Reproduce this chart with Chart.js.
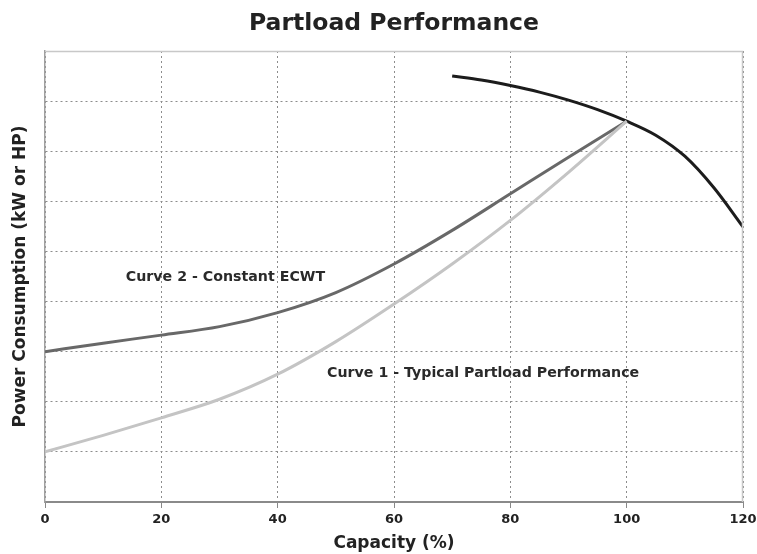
<!DOCTYPE html>
<html>
<head>
<meta charset="utf-8">
<script src="https://cdn.jsdelivr.net/npm/chart.js@4.4.0/dist/chart.umd.min.js"></script>
<style>
  html, body { margin: 0; padding: 0; background: #fff; }
  #wrap { width: 757px; height: 554px; }
</style>
</head>
<body>
<div id="wrap"><canvas id="c" width="757" height="554"></canvas></div>
<script>
// ---- Data ----
const xTicks = [0, 20, 40, 60, 80, 100, 120];

const curve1Capacity = [0, 10, 20, 30, 40, 50, 60, 70, 80, 90, 100];
const curve1Power    = [10, 13.3, 16.8, 20.5, 25.5, 32.0, 39.5, 47.5, 56.2, 65.8, 76.0];

const curve2Capacity = [0, 10, 20, 30, 40, 50, 60, 70, 80, 90, 100];
const curve2Power    = [30, 31.7, 33.3, 35.0, 37.8, 41.8, 47.5, 54.2, 61.5, 68.8, 76.0];

const curve3Capacity = [70, 75, 80, 85, 90, 95, 100, 105, 110, 115, 120];
const curve3Power    = [85.0, 84.2, 83.1, 81.8, 80.2, 78.3, 76.0, 73.2, 69.0, 62.7, 54.9];

const labelTexts = ["Curve 2 - Constant ECWT", "Curve 1 - Typical Partload Performance"];
const labelCapacity = [13.9, 48.5];
const labelPower = [44.9, 25.6];

function pts(xs, ys) { return xs.map((x, i) => ({ x: x, y: ys[i] })); }

const FONT = "'DejaVu Sans', Verdana, sans-serif";

const frame = {
  id: 'frame',
  afterDatasetsDraw(chart) {
    const { ctx, chartArea: a } = chart;
    ctx.save();
    ctx.strokeStyle = '#c8c8c8';
    ctx.lineWidth = 1.5;
    ctx.beginPath();
    ctx.moveTo(a.left, a.top + 0.5);
    ctx.lineTo(a.right - 0.5, a.top + 0.5);
    ctx.lineTo(a.right - 0.5, a.bottom);
    ctx.stroke();
    ctx.restore();
  }
};

const curveLabels = {
  id: 'curveLabels',
  afterDatasetsDraw(chart) {
    const { ctx, scales } = chart;
    ctx.save();
    ctx.font = "bold 14.2px " + FONT;
    ctx.fillStyle = '#2a2a2a';
    ctx.textBaseline = 'middle';
    ctx.textAlign = 'left';
    labelTexts.forEach((t, i) => {
      ctx.fillText(t, scales.x.getPixelForValue(labelCapacity[i]), scales.y.getPixelForValue(labelPower[i]));
    });
    ctx.restore();
  }
};

new Chart(document.getElementById('c'), {
  type: 'line',
  data: {
    datasets: [
      { label: 'Curve 1', data: pts(curve1Capacity, curve1Power), borderColor: '#c4c4c4', borderWidth: 3, pointRadius: 0, cubicInterpolationMode: 'monotone', fill: false },
      { label: 'Curve 2', data: pts(curve2Capacity, curve2Power), borderColor: '#686868', borderWidth: 3, pointRadius: 0, cubicInterpolationMode: 'monotone', fill: false },
      { label: 'Curve 3', data: pts(curve3Capacity, curve3Power), borderColor: '#1c1c1c', borderWidth: 3, pointRadius: 0, cubicInterpolationMode: 'monotone', fill: false }
    ]
  },
  options: {
    responsive: false,
    animation: false,
    devicePixelRatio: 1,
    layout: { padding: { left: 0, right: 0, top: 0, bottom: 0 } },
    plugins: {
      legend: { display: false },
      tooltip: { enabled: false },
      title: {
        display: true,
        fullSize: false,
        text: 'Partload Performance',
        color: '#222',
        font: { family: FONT, size: 23.5, weight: 'bold' },
        padding: { top: 10, bottom: 12.8 }
      }
    },
    scales: {
      x: {
        type: 'linear',
        min: 0, max: 120,
        afterBuildTicks: s => { s.ticks = xTicks.map(v => ({ value: v })); },
        afterFit: s => { s.height = 52; s.paddingRight = 14; },
        ticks: { color: '#222', font: { family: FONT, size: 13, weight: 'bold' }, padding: 4, maxRotation: 0 },
        grid: { color: '#8c8c8c', lineWidth: 1, drawTicks: true, tickLength: 6, tickColor: '#888', tickWidth: 1 },
        border: { display: true, color: '#8a8a8a', width: 2, dash: [2, 3] },
        title: { display: true, text: 'Capacity (%)', color: '#222', font: { family: FONT, size: 17, weight: 'bold' }, padding: { top: 0, bottom: 0 } }
      },
      y: {
        min: 0, max: 90,
        ticks: { display: false, stepSize: 10 },
        afterFit: s => { s.width = 45; },
        grid: { color: '#8c8c8c', lineWidth: 1, drawTicks: false },
        border: { display: true, color: '#a0a0a0', width: 1.5, dash: [2, 3] },
        title: { display: true, text: 'Power Consumption (kW or HP)', color: '#222', font: { family: FONT, size: 17, weight: 'bold' }, padding: { top: 10, bottom: 0 } }
      }
    }
  },
  plugins: [frame, curveLabels]
});
</script>
</body>
</html>
